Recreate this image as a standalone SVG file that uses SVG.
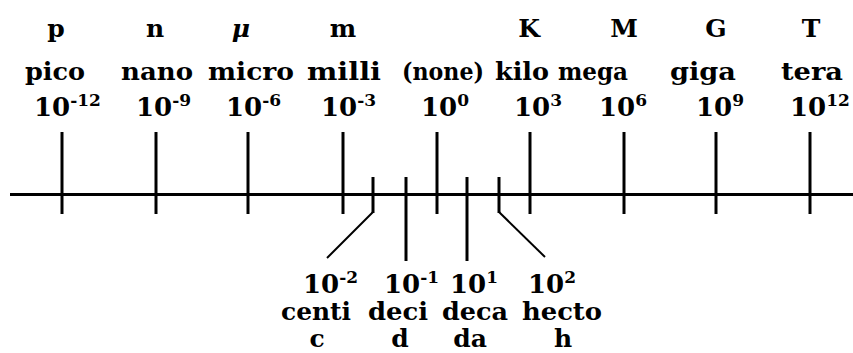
<svg xmlns="http://www.w3.org/2000/svg" width="853" height="353" viewBox="0 0 853 353">
<style>
text{font-family:"DejaVu Serif","Liberation Serif",serif;font-weight:bold;fill:#000;}
.sym{font-size:25px;text-anchor:middle;}
.w{font-size:25px;text-anchor:middle;}
.n{font-size:26px;}
.sup{font-size:17px;}
.mu{font-style:italic;}
.ax{stroke:#000;stroke-width:3;fill:none;}
.dg{stroke:#000;stroke-width:2;fill:none;}
</style>
<rect width="853" height="353" fill="#fff"/>
<g id="connectors">
<line class="ax" x1="10" y1="194.5" x2="853" y2="194.5"/>
<line class="ax" x1="62" y1="132" x2="62" y2="214"/>
<line class="ax" x1="156" y1="132" x2="156" y2="214"/>
<line class="ax" x1="248" y1="132" x2="248" y2="214"/>
<line class="ax" x1="343" y1="132" x2="343" y2="214"/>
<line class="ax" x1="437" y1="132" x2="437" y2="214"/>
<line class="ax" x1="530" y1="132" x2="530" y2="214"/>
<line class="ax" x1="624" y1="132" x2="624" y2="214"/>
<line class="ax" x1="716" y1="132" x2="716" y2="214"/>
<line class="ax" x1="810" y1="132" x2="810" y2="214"/>
<line class="ax" x1="373" y1="177" x2="373" y2="213"/>
<line class="dg" x1="373" y1="212" x2="327" y2="258"/>
<line class="ax" x1="406" y1="177" x2="406" y2="261"/>
<line class="ax" x1="467" y1="177" x2="467" y2="261"/>
<line class="ax" x1="499" y1="177" x2="499" y2="213"/>
<line class="dg" x1="499" y1="212" x2="545" y2="257"/>
</g>
<g id="pico">
<text class="sym" x="56" y="37">p</text>
<text class="w" x="55" y="80" textLength="60" lengthAdjust="spacingAndGlyphs">pico</text>
<text class="n" x="34" y="116">10<tspan class="sup" dy="-10">-12</tspan></text>
</g>
<g id="nano">
<text class="sym" x="155" y="37">n</text>
<text class="w" x="157" y="80" textLength="72" lengthAdjust="spacingAndGlyphs">nano</text>
<text class="n" x="136" y="116">10<tspan class="sup" dy="-10">-9</tspan></text>
</g>
<g id="micro">
<text class="sym mu" x="241" y="37">μ</text>
<text class="w" x="251" y="80" textLength="86" lengthAdjust="spacingAndGlyphs">micro</text>
<text class="n" x="226" y="116">10<tspan class="sup" dy="-10">-6</tspan></text>
</g>
<g id="milli">
<text class="sym" x="343" y="37">m</text>
<text class="w" x="344" y="80" textLength="74" lengthAdjust="spacingAndGlyphs">milli</text>
<text class="n" x="321" y="116">10<tspan class="sup" dy="-10">-3</tspan></text>
</g>
<g id="none">
<text class="w" x="443" y="80" textLength="82" lengthAdjust="spacingAndGlyphs">(none)</text>
<text class="n" x="421" y="116">10<tspan class="sup" dy="-10">0</tspan></text>
</g>
<g id="kilo">
<text class="sym" x="529" y="37">K</text>
<text class="w" x="522" y="80" textLength="54" lengthAdjust="spacingAndGlyphs">kilo</text>
<text class="n" x="514" y="116">10<tspan class="sup" dy="-10">3</tspan></text>
</g>
<g id="mega">
<text class="sym" x="624" y="37">M</text>
<text class="w" x="593" y="80" textLength="70" lengthAdjust="spacingAndGlyphs">mega</text>
<text class="n" x="599" y="116">10<tspan class="sup" dy="-10">6</tspan></text>
</g>
<g id="giga">
<text class="sym" x="716" y="37">G</text>
<text class="w" x="703" y="80" textLength="66" lengthAdjust="spacingAndGlyphs">giga</text>
<text class="n" x="696" y="116">10<tspan class="sup" dy="-10">9</tspan></text>
</g>
<g id="tera">
<text class="sym" x="811" y="37">T</text>
<text class="w" x="812" y="80" textLength="62" lengthAdjust="spacingAndGlyphs">tera</text>
<text class="n" x="790" y="116">10<tspan class="sup" dy="-10">12</tspan></text>
</g>
<g id="centi">
<text class="n" x="303" y="293">10<tspan class="sup" dy="-10">-2</tspan></text>
<text class="w" x="316" y="320" textLength="70" lengthAdjust="spacingAndGlyphs">centi</text>
<text class="sym" x="317" y="347">c</text>
</g>
<g id="deci">
<text class="n" x="384" y="293">10<tspan class="sup" dy="-10">-1</tspan></text>
<text class="w" x="398" y="320" textLength="60" lengthAdjust="spacingAndGlyphs">deci</text>
<text class="sym" x="400" y="347">d</text>
</g>
<g id="deca">
<text class="n" x="450" y="293">10<tspan class="sup" dy="-10">1</tspan></text>
<text class="w" x="475" y="320" textLength="66" lengthAdjust="spacingAndGlyphs">deca</text>
<text class="sym" x="470" y="347">da</text>
</g>
<g id="hecto">
<text class="n" x="528" y="293">10<tspan class="sup" dy="-10">2</tspan></text>
<text class="w" x="562" y="320" textLength="80" lengthAdjust="spacingAndGlyphs">hecto</text>
<text class="sym" x="563" y="347">h</text>
</g>
</svg>
